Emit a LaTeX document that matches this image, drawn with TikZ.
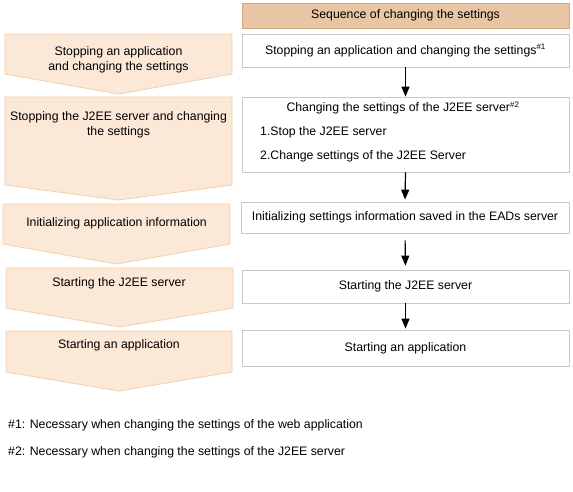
\documentclass[tikz,border=0pt]{standalone}
\usepackage{fontspec}
\setmainfont{Liberation Sans}
\usetikzlibrary{arrows.meta}
\definecolor{peach}{HTML}{FBE8D7}
\definecolor{peachline}{HTML}{F2D0AE}
\definecolor{hdrfill}{HTML}{E8C6A5}
\definecolor{hdrline}{HTML}{D9A67C}
\definecolor{boxline}{HTML}{C9C9C9}
\newcommand{\supmark}[1]{\textsuperscript{\fontsize{8}{9}\selectfont\##1}}
\begin{document}
\begin{tikzpicture}[x=1pt,y=-1pt,
  phase/.style={fill=peach,draw=peachline,line width=0.8pt,line join=miter},
  lbl/.style={inner sep=0pt,align=center,font=\fontsize{12.3}{14.5}\selectfont},
  hdr/.style={draw=hdrline,fill=hdrfill,line width=0.8pt,minimum width=327pt,inner sep=0pt,font=\fontsize{12.3}{14.5}\selectfont},
  stepbox/.style={draw=boxline,fill=white,line width=0.8pt,minimum width=327pt,inner sep=0pt,font=\fontsize{12.3}{14.5}\selectfont},
  arr/.style={-{Triangle[width=8pt,length=10pt]},line width=1.2pt,black},
  note/.style={anchor=west,inner sep=0pt,font=\fontsize{12.3}{14.5}\selectfont}]
\useasboundingbox (0,0) rectangle (573,492);
% left column
\draw[phase] (5,34) -- (232,34) -- (232,74) -- (118.5,94) -- (5,74) -- cycle;
\draw[phase] (5,97) -- (232,97) -- (232,185) -- (118.5,200) -- (5,185) -- cycle;
\draw[phase] (3,204) -- (230,204) -- (230,244) -- (116.5,264) -- (3,244) -- cycle;
\draw[phase] (6,268) -- (233,268) -- (233,308) -- (119.5,327) -- (6,308) -- cycle;
\draw[phase] (6,331) -- (232,331) -- (232,372) -- (119,391) -- (6,372) -- cycle;
\node[lbl] (l1) at (118.5,60) {Stopping an application\\and changing the settings};
\node[lbl] (l2) at (118.5,125) {Stopping the J2EE server and changing\\the settings};
\node[lbl] (l3) at (116.5,223) {Initializing application information};
\node[lbl] (l4) at (119,283) {Starting the J2EE server};
\node[lbl] (l5) at (119,345) {Starting an application};
% right column
\node[hdr,minimum height=25pt] (h) at (405.5,15.5) {Sequence of changing the settings};
\node[stepbox,minimum height=33pt] (b1) at (405.5,50.5) {Stopping an application and changing the settings\supmark{1}};
\node[stepbox,minimum height=75pt] (b2) at (405.5,134.5) {};
\node[lbl] (b2t) at (403,108) {Changing the settings of the J2EE server\supmark{2}};
\node[lbl,anchor=west] (b2a) at (260,132) {1.Stop the J2EE server};
\node[lbl,anchor=west] (b2b) at (260,156) {2.Change settings of the J2EE Server};
\node[stepbox,minimum height=31pt,minimum width=328pt] (b3) at (405,217.5) {Initializing settings information saved in the EADs server};
\node[stepbox,minimum height=33pt] (b4) at (405.5,286.5) {Starting the J2EE server};
\node[stepbox,minimum height=36pt] (b5) at (405.5,348) {Starting an application};
\draw[arr] (b1.south) -- (b2.north);
\draw[arr,shorten >=2pt] (b2.south) -- (b3.north);
\draw[arr,shorten <=7pt,shorten >=4pt] (b3.south) -- (b4.north);
\draw[arr,shorten >=1pt] (b4.south) -- (b5.north);
% notes
\node[note] (n1) at (8,425) {\#1: Necessary when changing the settings of the web application};
\node[note] (n2) at (8,452) {\#2: Necessary when changing the settings of the J2EE server};
\end{tikzpicture}
\end{document}
